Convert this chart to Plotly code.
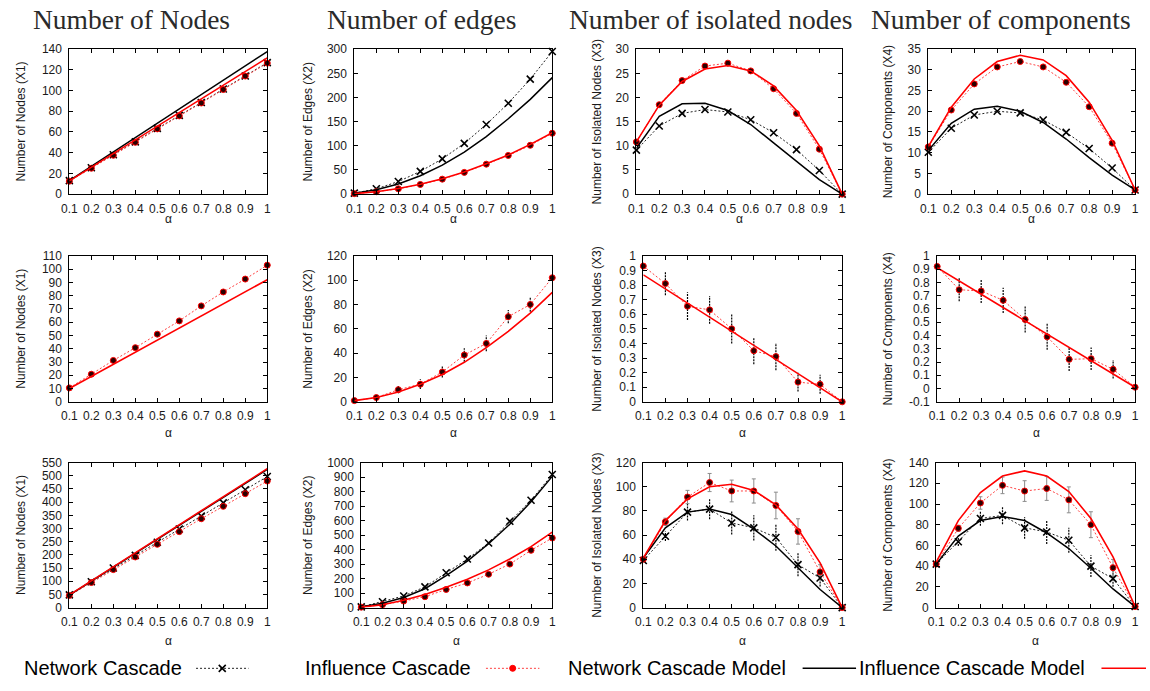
import plotly.graph_objects as go

W, H = 1150, 691

alpha = [0.1, 0.2, 0.3, 0.4, 0.5, 0.6, 0.7, 0.8, 0.9, 1.0]
x_ticktext = ["0.1", "0.2", "0.3", "0.4", "0.5", "0.6", "0.7", "0.8", "0.9", "1"]

col_titles = ["Number of Nodes", "Number of edges", "Number of isolated nodes", "Number of components"]
y_titles = ["Number of Nodes (X1)", "Number of Edges (X2)", "Number of Isolated Nodes (X3)", "Number of Components (X4)"]
legend_labels = ["Network Cascade", "Influence Cascade", "Network Cascade Model", "Influence Cascade Model"]

# ---------------- Row 1 ----------------
r1_nodes_net = [13, 25.5, 38, 50.5, 63.5, 76, 88.5, 101.5, 114, 127]
r1_nodes_inf = [12.5, 25, 37.5, 50, 63, 75.5, 88, 101, 114, 126.5]
r1_nodes_net_model = [13, 26.8, 40.7, 54.5, 68.4, 82.2, 96.1, 110, 123.8, 137.7]
r1_nodes_inf_model = [12.8, 26, 39.2, 52.4, 65.5, 78.7, 92, 105, 118.3, 131.5]

r1_edges_net = [2, 11, 26, 47, 73, 105, 144, 188, 238, 295]
r1_edges_inf = [1, 5, 11, 20, 31, 45, 62, 80, 101, 126]
r1_edges_net_model = [2, 9, 21, 38, 60, 87, 119, 156, 196, 241]
r1_edges_inf_model = [1, 5, 11.5, 20.5, 32, 46, 63, 81, 103, 127]

r1_iso_net = [9.1, 14.1, 16.7, 17.5, 17.0, 15.4, 12.7, 9.2, 4.9, 0]
r1_iso_inf = [10.8, 18.5, 23.5, 26.5, 27.1, 25.5, 21.8, 16.7, 9.3, 0]
r1_iso_net_model = [9.5, 16.1, 18.7, 18.8, 17.3, 14.4, 10.6, 6.7, 3.0, 0]
r1_iso_inf_model = [10.8, 18.4, 23.3, 25.9, 26.6, 25.5, 22.4, 17.3, 10.0, 0]

r1_comp_net = [10.1, 15.9, 19.1, 20.0, 19.6, 17.9, 14.9, 11.0, 6.3, 1]
r1_comp_inf = [11.4, 20.3, 26.6, 30.7, 32.0, 30.7, 27.0, 21.1, 12.3, 1]
r1_comp_net_model = [10.5, 17.1, 20.5, 21.2, 20.0, 17.3, 13.3, 8.8, 4.6, 1]
r1_comp_inf_model = [11.5, 21.0, 27.8, 32.0, 33.5, 32.4, 28.6, 22.2, 13.0, 1]

# ---------------- Row 2 (influence only) ----------------
r2_nodes_inf = [10.5, 20.8, 31.2, 40.8, 51, 61, 72.3, 82.8, 92.5, 103]
r2_nodes_inf_model = [10, 19.1, 28.2, 37.3, 46.4, 55.6, 64.7, 73.8, 82.9, 92]

r2_edges_inf = [1, 3.5, 10, 14.5, 24.5, 38.5, 48, 70, 80, 102]
r2_edges_inf_err = [0.5, 1.5, 3, 4, 4.5, 5.5, 6.5, 5.5, 6, 0]
r2_edges_inf_model = [1, 3.5, 8, 14.5, 22.5, 32.5, 44.5, 58, 73, 90]

r2_iso_inf = [0.93, 0.81, 0.655, 0.63, 0.50, 0.35, 0.31, 0.135, 0.12, 0.0]
r2_iso_inf_err = [0.0, 0.08, 0.095, 0.095, 0.10, 0.093, 0.093, 0.065, 0.065, 0.0]
r2_iso_inf_model = [0.87, 0.773, 0.677, 0.58, 0.483, 0.387, 0.29, 0.193, 0.097, 0.0]

r2_comp_inf = [0.92, 0.745, 0.735, 0.665, 0.52, 0.39, 0.22, 0.225, 0.145, 0.01]
r2_comp_inf_err = [0.0, 0.088, 0.09, 0.095, 0.098, 0.098, 0.088, 0.085, 0.07, 0.0]
r2_comp_inf_model = [0.91, 0.81, 0.71, 0.61, 0.51, 0.41, 0.31, 0.21, 0.11, 0.01]

# ---------------- Row 3 ----------------
r3_nodes_net = [48, 98, 150, 198, 248, 298, 347, 397, 447, 497]
r3_nodes_inf = [46, 95, 144, 192, 240, 288, 337, 384, 432, 480]
r3_nodes_net_model = [47, 100, 153, 206, 259, 312, 365, 418, 471, 524]
r3_nodes_inf_model = [48, 101, 154, 207, 260, 313, 366, 420, 473, 527]

r3_edges_net = [5, 40, 80, 143, 240, 335, 445, 595, 740, 918]
r3_edges_inf = [3, 20, 45, 75, 125, 170, 230, 300, 395, 480]
r3_edges_net_model = [5, 30, 70, 130, 220, 320, 440, 575, 730, 905]
r3_edges_inf_model = [3, 20, 50, 90, 140, 195, 260, 335, 420, 520]

r3_iso_net = [39, 59, 79, 81.5, 70, 66, 58, 35.5, 24.5, 0]
r3_iso_net_err = [1, 4, 7, 8.5, 9.5, 10.5, 11, 9.5, 7, 0]
r3_iso_inf = [40, 71, 91.5, 103.5, 96.5, 96.5, 84.5, 63, 29.5, 0]
r3_iso_inf_err = [1, 3, 5.5, 7.5, 9, 10, 11, 10.5, 6, 0]
r3_iso_net_model = [41, 66, 79, 81.5, 77, 65, 51, 33, 15, 0]
r3_iso_inf_model = [41, 72, 90, 100, 102, 97, 85, 65, 37, 0]

r3_comp_net = [42, 63.5, 86, 89, 77, 73, 65, 40, 28, 1]
r3_comp_net_err = [1, 4, 7, 8.5, 10.5, 11.5, 12, 10.5, 8, 0]
r3_comp_inf = [42, 76.5, 101, 118, 112.5, 115, 104, 80, 38.5, 1]
r3_comp_inf_err = [1, 3, 6, 8, 10, 11.5, 12.5, 12.5, 8, 0]
r3_comp_net_model = [42, 69, 84, 88, 84, 72, 57, 38, 18, 1]
r3_comp_inf_model = [44, 84, 111, 127, 132, 127, 112, 86, 49, 1]

# y axis ranges / tick steps per panel (row-major)
y_ranges = [[0, 140], [0, 300], [0, 30], [0, 35],
            [0, 110], [0, 120], [0, 1], [-0.1, 1],
            [0, 550], [0, 1000], [0, 120], [0, 140]]
y_steps = [20, 50, 5, 5,
           10, 20, 0.1, 0.1,
           50, 100, 20, 20]

panels = [
    dict(net=r1_nodes_net, inf=r1_nodes_inf, netm=r1_nodes_net_model, infm=r1_nodes_inf_model),
    dict(net=r1_edges_net, inf=r1_edges_inf, netm=r1_edges_net_model, infm=r1_edges_inf_model),
    dict(net=r1_iso_net, inf=r1_iso_inf, netm=r1_iso_net_model, infm=r1_iso_inf_model),
    dict(net=r1_comp_net, inf=r1_comp_inf, netm=r1_comp_net_model, infm=r1_comp_inf_model),
    dict(inf=r2_nodes_inf, infm=r2_nodes_inf_model),
    dict(inf=r2_edges_inf, inf_err=r2_edges_inf_err, inf_err_style="dot", infm=r2_edges_inf_model),
    dict(inf=r2_iso_inf, inf_err=r2_iso_inf_err, inf_err_style="dot", infm=r2_iso_inf_model),
    dict(inf=r2_comp_inf, inf_err=r2_comp_inf_err, inf_err_style="dot", infm=r2_comp_inf_model),
    dict(net=r3_nodes_net, inf=r3_nodes_inf, netm=r3_nodes_net_model, infm=r3_nodes_inf_model),
    dict(net=r3_edges_net, inf=r3_edges_inf, netm=r3_edges_net_model, infm=r3_edges_inf_model),
    dict(net=r3_iso_net, net_err=r3_iso_net_err, inf=r3_iso_inf, inf_err=r3_iso_inf_err,
         inf_err_style="solid", netm=r3_iso_net_model, infm=r3_iso_inf_model),
    dict(net=r3_comp_net, net_err=r3_comp_net_err, inf=r3_comp_inf, inf_err=r3_comp_inf_err,
         inf_err_style="solid", netm=r3_comp_net_model, infm=r3_comp_inf_model),
]

# ---------------- layout geometry (pixels) ----------------
lefts = [[62, 350, 635, 930], [62, 350, 642, 939], [62, 357, 642, 938]]
rights = [262, 550, 843, 1139]
tops = [43, 254, 465]
bottoms = [191, 403, 613]
ytitle_x = [13, 303, 595, 889]
alpha_y = [216, 435, 647]
title_x = [125, 418, 710, 1003]

BLACK = "#000000"
RED = "#ff0000"
RED_DOT = "#ff4040"
TXT = "#1a1a1a"
SANS = "Liberation Sans, Arial, sans-serif"
SERIF = "Liberation Serif, DejaVu Serif, serif"

fig = go.Figure()
layout = dict(width=W, height=H, margin=dict(l=0, r=0, t=0, b=0),
              paper_bgcolor="white", plot_bgcolor="white", showlegend=False)
annotations = []


def fmt(v):
    s = ("%.2f" % v).rstrip("0").rstrip(".")
    if s in ("-0", ""):
        s = "0"
    return s


def err_segments(xs, ys, es):
    sx, sy = [], []
    for x, y, e in zip(xs, ys, es):
        if e <= 0:
            continue
        sx += [x, x, None]
        sy += [y - e, y + e, None]
    return sx, sy


for k, p in enumerate(panels):
    r, c = divmod(k, 4)
    idx = k + 1
    xa = "x" if idx == 1 else "x%d" % idx
    ya = "y" if idx == 1 else "y%d" % idx
    xkey = "xaxis" if idx == 1 else "xaxis%d" % idx
    ykey = "yaxis" if idx == 1 else "yaxis%d" % idx

    lo, hi = y_ranges[k]
    st = y_steps[k]
    n = int(round((hi - lo) / st))
    yt = [lo + i * st for i in range(n + 1)]
    ytt = [fmt(v) for v in yt]

    common = dict(showline=True, linecolor=BLACK, linewidth=1, mirror="ticks",
                  ticks="inside", ticklen=4, tickcolor=BLACK, tickwidth=1,
                  showgrid=False, zeroline=False,
                  tickfont=dict(family=SANS, size=12, color=TXT))
    layout[xkey] = dict(domain=[lefts[r][c] / W, rights[c] / W], anchor=ya,
                        range=[0.1, 1.0], tickvals=alpha, ticktext=x_ticktext,
                        ticklabelstandoff=3, **common)
    layout[ykey] = dict(domain=[1 - bottoms[r] / H, 1 - tops[r] / H], anchor=xa,
                        range=[lo, hi], tickvals=yt, ticktext=ytt,
                        ticklabelstandoff=4, **common)

    # error bars
    if "net_err" in p:
        sx, sy = err_segments(alpha, p["net"], p["net_err"])
        fig.add_trace(go.Scatter(x=sx, y=sy, xaxis=xa, yaxis=ya, mode="lines",
                                 line=dict(color=BLACK, width=1.2, dash="2px,1px"),
                                 hoverinfo="skip"))
    if "inf_err" in p:
        if p.get("inf_err_style") == "solid":
            fig.add_trace(go.Scatter(x=alpha, y=p["inf"], xaxis=xa, yaxis=ya, mode="none",
                                     error_y=dict(type="data", array=p["inf_err"], visible=True,
                                                  color="#8c8c8c", thickness=1, width=2),
                                     hoverinfo="skip"))
        else:
            sx, sy = err_segments(alpha, p["inf"], p["inf_err"])
            fig.add_trace(go.Scatter(x=sx, y=sy, xaxis=xa, yaxis=ya, mode="lines",
                                     line=dict(color=BLACK, width=1.2, dash="2px,1px"),
                                     hoverinfo="skip"))

    if "net" in p:
        fig.add_trace(go.Scatter(x=alpha, y=p["net"], xaxis=xa, yaxis=ya, mode="lines+markers",
                                 name=legend_labels[0], cliponaxis=False,
                                 line=dict(color="#222222", width=1, dash="2px,2px"),
                                 marker=dict(symbol="x-thin", size=7,
                                             line=dict(color=BLACK, width=1.6))))
    if "inf" in p:
        fig.add_trace(go.Scatter(x=alpha, y=p["inf"], xaxis=xa, yaxis=ya, mode="lines+markers",
                                 name=legend_labels[1], cliponaxis=False,
                                 line=dict(color=RED_DOT, width=1, dash="2px,2px"),
                                 marker=dict(symbol="circle", size=6, color="#2a0000",
                                             line=dict(color=RED, width=1))))
    if "netm" in p:
        fig.add_trace(go.Scatter(x=alpha, y=p["netm"], xaxis=xa, yaxis=ya, mode="lines",
                                 name=legend_labels[2], line=dict(color=BLACK, width=1.5)))
    if "infm" in p:
        fig.add_trace(go.Scatter(x=alpha, y=p["infm"], xaxis=xa, yaxis=ya, mode="lines",
                                 name=legend_labels[3], line=dict(color=RED, width=1.6)))

    # y title
    annotations.append(dict(xref="paper", yref="paper", x=ytitle_x[c] / W,
                            y=1 - (tops[r] + bottoms[r]) / 2 / H, text=y_titles[c],
                            textangle=-90, showarrow=False, xanchor="center", yanchor="middle",
                            font=dict(family=SANS, size=12, color=TXT)))
    # alpha label
    annotations.append(dict(xref="paper", yref="paper",
                            x=(lefts[r][c] + rights[c]) / 2 / W, y=1 - alpha_y[r] / H,
                            text="α", showarrow=False, xanchor="center", yanchor="middle",
                            font=dict(family=SANS, size=12, color=TXT)))

# column titles
for c in range(4):
    annotations.append(dict(xref="paper", yref="paper", x=title_x[c] / W, y=1 - 13 / H,
                            text=col_titles[c], showarrow=False, xanchor="center",
                            yanchor="middle", font=dict(family=SERIF, size=27.5, color="#2a2a2a")))

# ---------------- legend (manual, symbol after text) ----------------
leg_text_x = [14, 298, 564, 858]
leg_line_x = [[190, 243], [483, 537], [803, 857], [1105, 1150]]
leg_y = 675
layout["xaxis13"] = dict(domain=[0, 1], range=[0, W], visible=False, anchor="y13")
layout["yaxis13"] = dict(domain=[0, 40 / H], range=[H, H - 40], visible=False, anchor="x13")
leg_styles = [
    dict(line=dict(color="#222222", width=1, dash="2px,2px"),
         marker=dict(symbol="x-thin", size=7, line=dict(color=BLACK, width=1.6))),
    dict(line=dict(color=RED_DOT, width=1, dash="2px,2px"),
         marker=dict(symbol="circle", size=6, color=RED, line=dict(color=RED, width=1))),
    dict(line=dict(color=BLACK, width=1.5)),
    dict(line=dict(color=RED, width=1.6)),
]
for i in range(4):
    x0, x1 = leg_line_x[i]
    fig.add_trace(go.Scatter(x=[x0, x1], y=[leg_y, leg_y], xaxis="x13", yaxis="y13",
                             mode="lines", line=leg_styles[i]["line"], hoverinfo="skip",
                             cliponaxis=False))
    if "marker" in leg_styles[i]:
        fig.add_trace(go.Scatter(x=[(x0 + x1) / 2], y=[leg_y], xaxis="x13", yaxis="y13",
                                 mode="markers", marker=leg_styles[i]["marker"],
                                 hoverinfo="skip", cliponaxis=False))
    annotations.append(dict(xref="paper", yref="paper", x=leg_text_x[i] / W, y=1 - leg_y / H,
                            text=legend_labels[i], showarrow=False, xanchor="left",
                            yanchor="middle", font=dict(family=SANS, size=20, color=BLACK)))

layout["annotations"] = annotations
fig.update_layout(**layout)
fig.write_html("out.html")
